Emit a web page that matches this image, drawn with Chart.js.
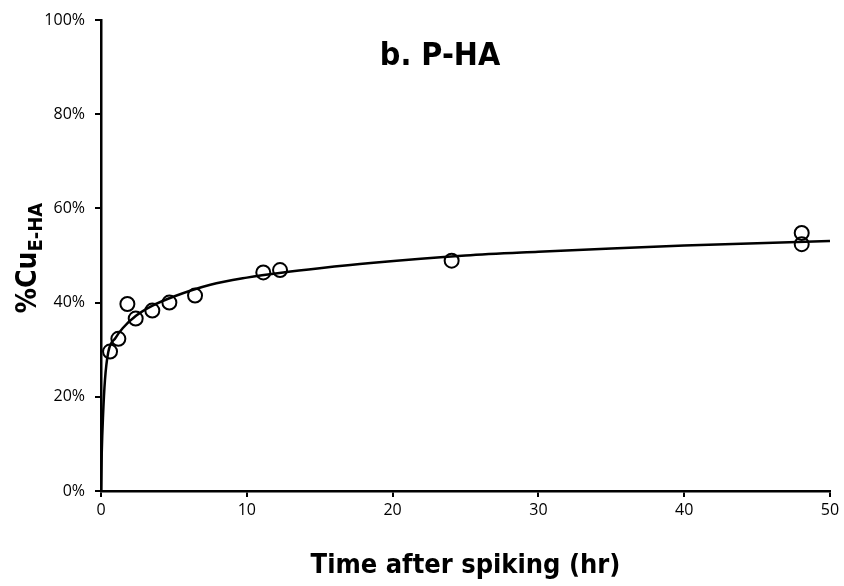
<!DOCTYPE html>
<html>
<head>
<meta charset="utf-8">
<script src="https://cdn.jsdelivr.net/npm/chart.js@4"></script>
<style>
  html, body { margin: 0; padding: 0; background: #fff; }
  #wrap { width: 844px; height: 586px; }
</style>
</head>
<body>
<div id="wrap"><canvas id="c" width="844" height="586"></canvas></div>
<script>
// measured points (hr, %Cu E-HA)
const timeHr = [0.62, 1.19, 1.81, 2.38, 3.52, 4.69, 6.45, 11.13, 12.28, 24.05, 48.06, 48.06];
const pctCu = [29.6, 32.3, 39.7, 36.6, 38.3, 40.0, 41.5, 46.4, 46.9, 48.9, 54.8, 52.4];

// fitted trend line
const fitHr = [0, 0.05, 0.14, 0.27, 0.5, 1.0, 1.5, 2.4, 3.5, 5, 7.5, 10, 12.5, 15, 18.5, 25, 30, 35, 40, 45, 50];
const fitPct = [0, 8, 16, 23.5, 29.5, 32.5, 34.6, 37.2, 39.3, 41.3, 43.8, 45.3, 46.4, 47.3, 48.4, 50.0, 50.8, 51.5, 52.1, 52.6, 53.1];

const yTicks = [0, 20, 40, 60, 80, 100];
const xTicks = [0, 10, 20, 30, 40, 50];

const narrow = "'Liberation Sans Narrow', 'DejaVu Sans Condensed', sans-serif";
const tickFont = { size: 16, family: "'Open Sans', sans-serif" };

const labelsPlugin = {
  id: "labels",
  afterDraw(chart) {
    const ctx = chart.ctx;
    const area = chart.chartArea;
    ctx.save();
    ctx.fillStyle = "#000";
    // panel label
    ctx.font = "bold 32px " + narrow;
    ctx.textAlign = "center";
    ctx.textBaseline = "middle";
    ctx.fillText("b. P-HA", 440, 57);
    // x title
    ctx.font = "bold 27px " + narrow;
    ctx.fillText("Time after spiking (hr)", (area.left + area.right) / 2, 566);
    // y title with subscript
    ctx.translate(27, 258);
    ctx.rotate(-Math.PI / 2);
    ctx.textAlign = "left";
    ctx.textBaseline = "alphabetic";
    ctx.font = "bold 28px " + narrow;
    const main = "%Cu";
    const w = ctx.measureText(main).width;
    ctx.font = "bold 20px " + narrow;
    const sub = "E-HA";
    const ws = ctx.measureText(sub).width;
    const start = -(w + ws) / 2;
    ctx.font = "bold 28px " + narrow;
    ctx.fillText(main, start, 9);
    ctx.font = "bold 20px " + narrow;
    ctx.fillText(sub, start + w, 15);
    ctx.restore();
  }
};

new Chart(document.getElementById("c"), {
  type: "scatter",
  data: {
    datasets: [
      {
        label: "data",
        data: timeHr.map((t, i) => ({ x: t, y: pctCu[i] })),
        showLine: false,
        pointStyle: "circle",
        pointRadius: 7,
        pointBorderWidth: 2,
        pointBorderColor: "#000",
        pointBackgroundColor: "rgba(0,0,0,0)",
        order: 0,
      },
      {
        label: "fit",
        data: fitHr.map((t, i) => ({ x: t, y: fitPct[i] })),
        showLine: true,
        borderColor: "#000",
        borderWidth: 2.5,
        pointRadius: 0,
        cubicInterpolationMode: "monotone",
        order: 1,
      },
    ],
  },
  options: {
    responsive: false,
    animation: false,
    layout: { padding: { left: 0, right: 14, top: 20, bottom: 0 } },
    plugins: {
      legend: { display: false },
      tooltip: { enabled: false },
    },
    scales: {
      x: {
        type: "linear",
        min: 0,
        max: 50,
        afterBuildTicks: (s) => { s.ticks = xTicks.map((v) => ({ value: v })); },
        afterFit: (s) => { s.height = 95; },
        border: { color: "#000", width: 2.5 },
        grid: { drawOnChartArea: false, color: "#000", lineWidth: 2, tickLength: 6 },
        ticks: { color: "#000", font: tickFont, padding: 4 },
      },
      y: {
        min: 0,
        max: 100,
        afterBuildTicks: (s) => { s.ticks = yTicks.map((v) => ({ value: v })); },
        afterFit: (s) => { s.width = 101; },
        border: { color: "#000", width: 2.5 },
        grid: { drawOnChartArea: false, color: "#000", lineWidth: 2, tickLength: 6 },
        ticks: { color: "#000", font: tickFont, padding: 10, callback: (v) => v + "%" },
      },
    },
  },
  plugins: [labelsPlugin],
});
</script>
</body>
</html>
